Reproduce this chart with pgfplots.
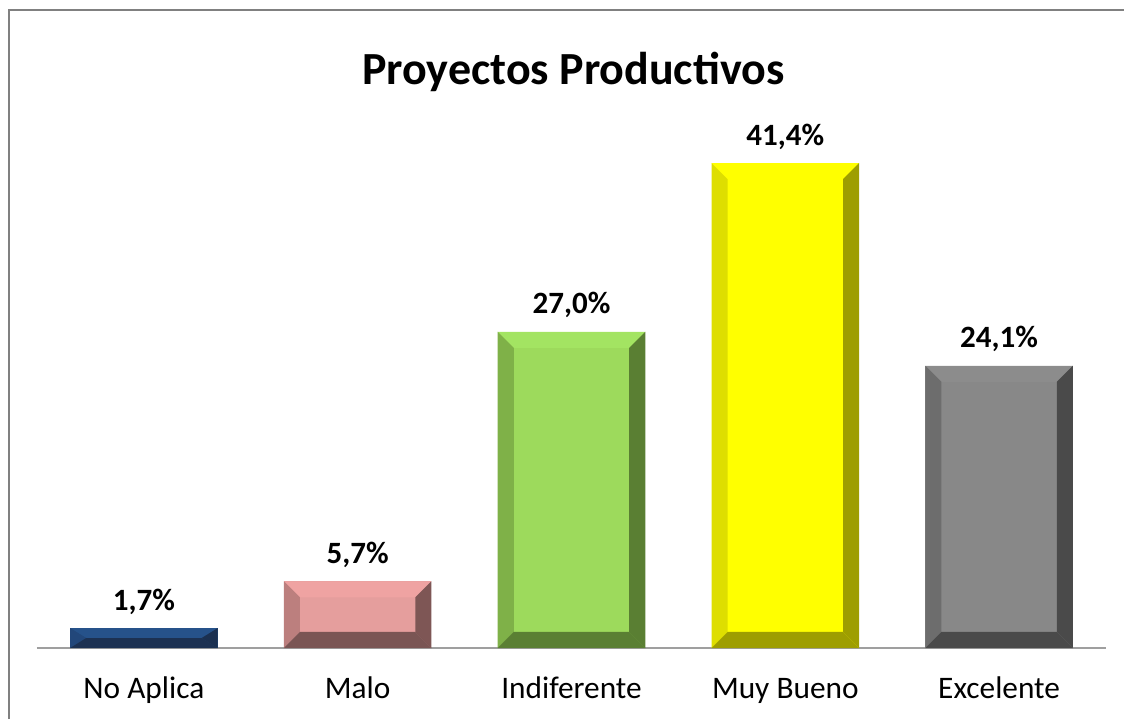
\documentclass[border=0pt]{standalone}
\usepackage{pgfplots}
\usepackage{pgfplotstable}
\pgfplotsset{compat=1.18}
\usepackage{fontspec}
\setmainfont{Carlito}

% colours: face, top, left, right, bottom
\definecolor{c0face}{HTML}{234A7D}
\definecolor{c0top}{HTML}{26528A}
\definecolor{c0left}{HTML}{22477A}
\definecolor{c0right}{HTML}{1B3050}
\definecolor{c0bottom}{HTML}{1C3152}
\definecolor{c1face}{HTML}{E59E9D}
\definecolor{c1top}{HTML}{EFA3A2}
\definecolor{c1left}{HTML}{BC7F7E}
\definecolor{c1right}{HTML}{7E5655}
\definecolor{c1bottom}{HTML}{7A5554}
\definecolor{c2face}{HTML}{9DDA5C}
\definecolor{c2top}{HTML}{A3E462}
\definecolor{c2left}{HTML}{7FB148}
\definecolor{c2right}{HTML}{5A7F33}
\definecolor{c2bottom}{HTML}{5A7F33}
\definecolor{c3face}{HTML}{FFFF00}
\definecolor{c3top}{HTML}{FFFF00}
\definecolor{c3left}{HTML}{DEDE00}
\definecolor{c3right}{HTML}{9E9E00}
\definecolor{c3bottom}{HTML}{9E9E00}
\definecolor{c4face}{HTML}{888888}
\definecolor{c4top}{HTML}{8C8C8C}
\definecolor{c4left}{HTML}{6D6D6D}
\definecolor{c4right}{HTML}{4A4A4A}
\definecolor{c4bottom}{HTML}{4A4A4A}

\pgfplotstableread{
x v
0 1.7
1 5.7
2 27.0
3 41.4
4 24.1
}\datatable

\pgfplotsset{facelabel/.style={
  point meta=y,
  nodes near coords={\pgfmathprintnumber[fixed,fixed zerofill,precision=1,use comma,assume math mode=true]{\pgfplotspointmeta}\%},
  every node near coord/.style={anchor=base, yshift=13.5pt, inner sep=0pt, text=black, font=\bfseries\fontsize{23.25}{24}\selectfont}
}}

\begin{document}
\begin{tikzpicture}
\path[use as bounding box] (0,0) rectangle (843pt,539.25pt);
\draw[color=gray, line width=1.5pt] (6.75pt,0pt) -- (6.75pt,531.75pt) -- (843pt,531.75pt);
\node[anchor=base] at (430pt,475.5pt) {\bfseries\fontsize{34.5}{36}\selectfont Proyectos Productivos};
\begin{axis}[
  at={(27.75pt,53.25pt)}, anchor=south west,
  scale only axis, width=801.75pt, height=395.25pt,
  xmin=-0.5, xmax=4.5, ymin=0, ymax=45,
  axis x line*=bottom, axis y line=none,
  x axis line style={draw=gray!75, line width=1.5pt},
  xtick={0,...,4}, major tick length=0,
  xticklabels={No Aplica, Malo, Indiferente, Muy Bueno, Excelente},
  xticklabel style={font=\fontsize{23.5}{24}\selectfont, anchor=base, yshift=-37.5pt},
  clip=false,
]
\pgfplotsforeachungrouped \i in {0,...,4}{%
  \pgfplotstablegetelem{\i}{v}\of\datatable
  \let\v\pgfplotsretval
  \pgfmathsetmacro\xl{\i-0.345}%
  \pgfmathsetmacro\xr{\i+0.345}%
  \pgfmathsetmacro\xli{\i-0.27}%
  \pgfmathsetmacro\xri{\i+0.27}%
  \pgfmathsetmacro\b{min(1.37,\v/2)}%
  \pgfmathsetmacro\vt{\v-\b}%
  \edef\doplots{%
    \noexpand\addplot[ybar, bar width=0.69, bar shift=0, draw=none, fill=c\i face, facelabel] coordinates {(\i,\v)};
    \noexpand\addplot[draw=none, fill=c\i top] coordinates {(\xl,\v) (\xr,\v) (\xri,\vt) (\xli,\vt)};
    \noexpand\addplot[draw=none, fill=c\i left] coordinates {(\xl,0) (\xl,\v) (\xli,\vt) (\xli,\b)};
    \noexpand\addplot[draw=none, fill=c\i right] coordinates {(\xr,0) (\xr,\v) (\xri,\vt) (\xri,\b)};
    \noexpand\addplot[draw=none, fill=c\i bottom] coordinates {(\xl,0) (\xr,0) (\xri,\b) (\xli,\b)};
  }%
  \doplots
}
\end{axis}
\end{tikzpicture}
\end{document}
